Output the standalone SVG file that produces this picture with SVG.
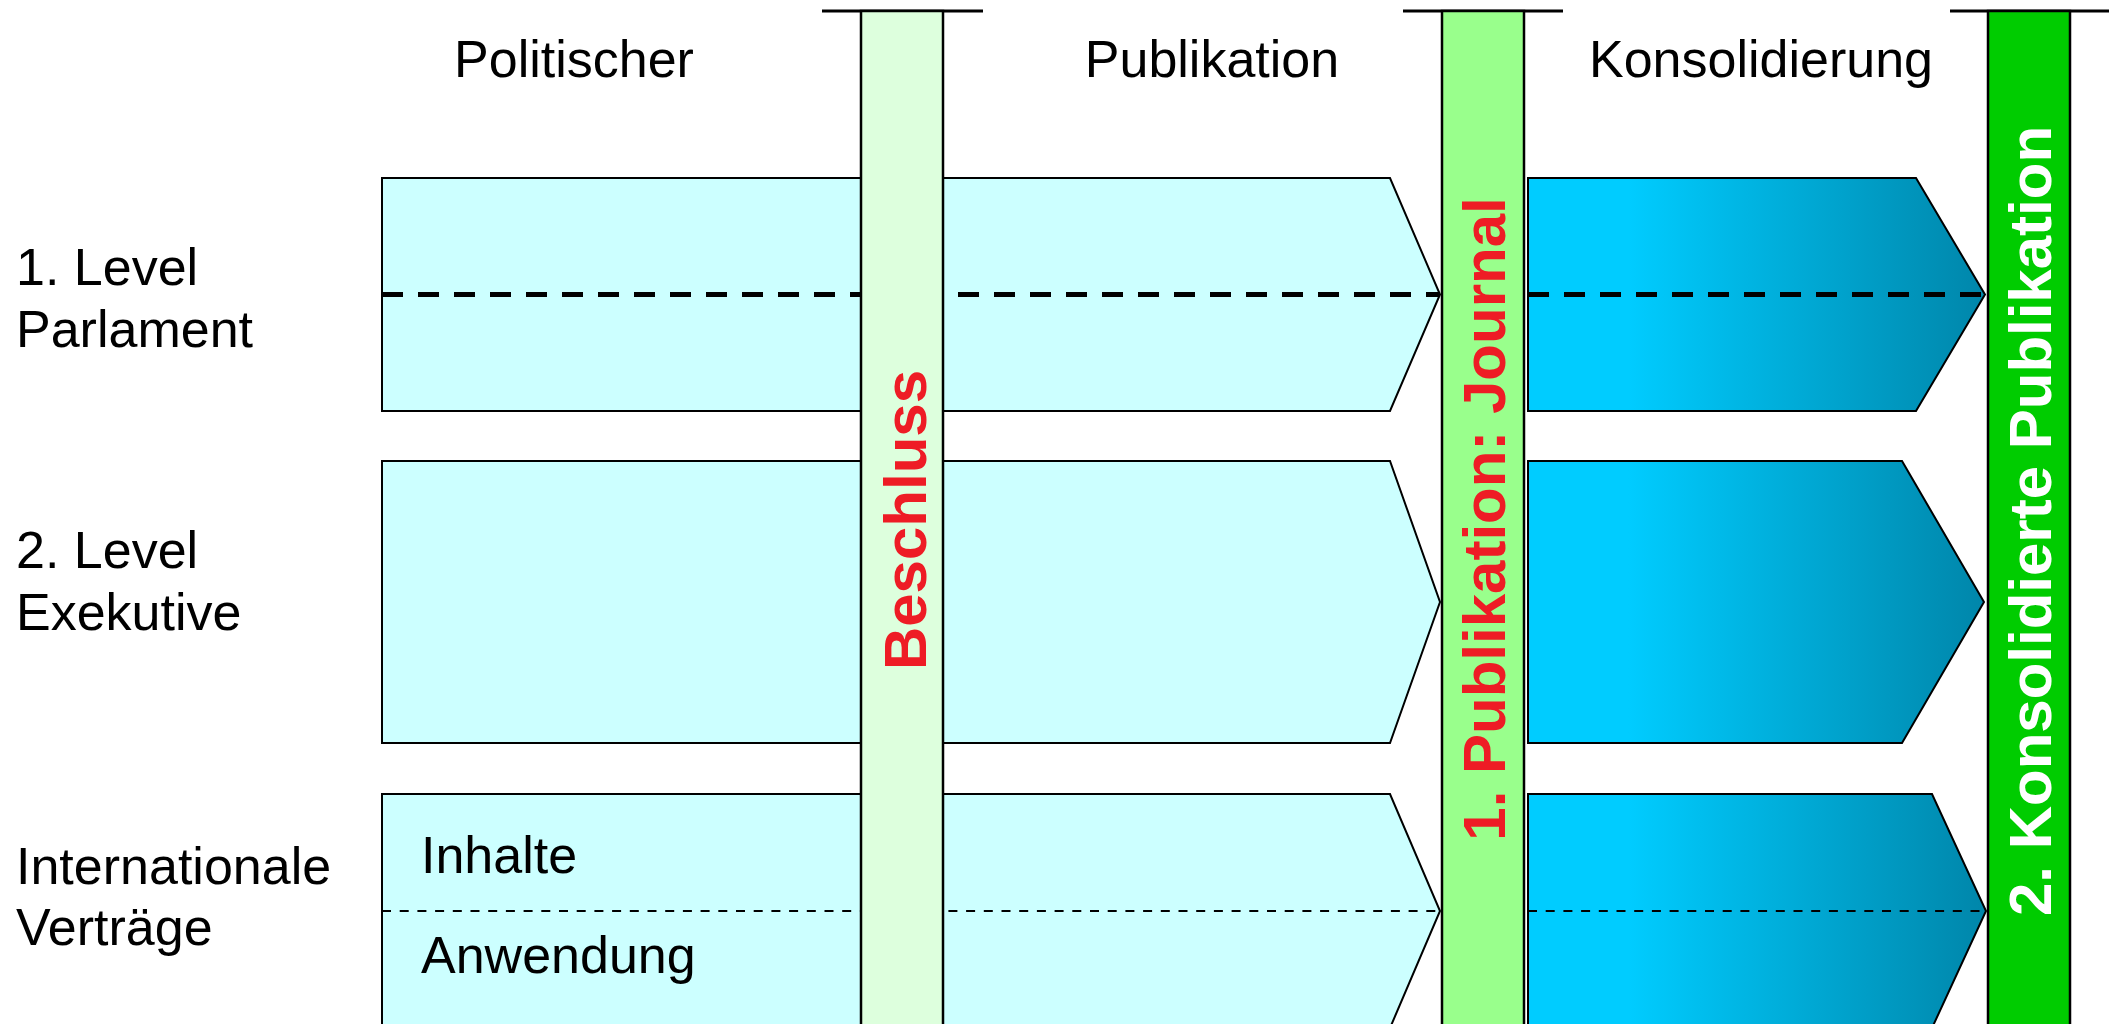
<svg xmlns="http://www.w3.org/2000/svg" width="2116" height="1024" viewBox="0 0 2116 1024">
<defs>
<linearGradient id="blue" x1="0" y1="0" x2="1" y2="0">
<stop offset="0" stop-color="#00CCFF"/>
<stop offset="0.22" stop-color="#00CCFF"/>
<stop offset="1" stop-color="#0086AA"/>
</linearGradient>
<style>
.cyan{fill:#CCFFFF;stroke:#000;stroke-width:2}
.blue{fill:url(#blue);stroke:#000;stroke-width:2}
.bar{stroke:#000;stroke-width:2.5}
.cap{stroke:#000;stroke-width:3}
.dash1{stroke:#000;stroke-width:5;stroke-dasharray:21 15;fill:none}
.dash3{stroke:#000;stroke-width:2;stroke-dasharray:9 8.7;fill:none}
.lbl{font-family:"Liberation Sans",Arial,sans-serif;font-size:52px;fill:#000}
.vt{font-family:"Liberation Sans",Arial,sans-serif;font-size:60px;font-weight:bold;text-anchor:middle}
</style>
</defs>
<rect width="2116" height="1024" fill="#fff"/>

<g id="headers">
<text class="lbl" x="574" y="77" text-anchor="middle">Politischer</text>
<text class="lbl" x="1212" y="77" text-anchor="middle">Publikation</text>
<text class="lbl" x="1761" y="77" text-anchor="middle">Konsolidierung</text>
</g>

<g id="row-labels">
<text class="lbl" x="16" y="285">1. Level</text>
<text class="lbl" x="16" y="347">Parlament</text>
<text class="lbl" x="16" y="568">2. Level</text>
<text class="lbl" x="16" y="630">Exekutive</text>
<text class="lbl" x="16" y="884">Internationale</text>
<text class="lbl" x="16" y="945">Verträge</text>
</g>

<g id="row1">
<polygon class="cyan" points="382,178 1390,178 1440,294.5 1390,411 382,411"/>
<polygon class="blue" points="1528,178 1916,178 1985,294.5 1916,411 1528,411"/>
</g>
<g id="row2">
<polygon class="cyan" points="382,461 1390,461 1440,602 1390,743 382,743"/>
<polygon class="blue" points="1528,461 1902,461 1984,602 1902,743 1528,743"/>
</g>
<g id="row3">
<polygon class="cyan" points="382,794 1390,794 1440,911 1390,1028 382,1028"/>
<polygon class="blue" points="1528,794 1932,794 1986,911 1932,1028 1528,1028"/>
<text class="lbl" x="421" y="873">Inhalte</text>
<text class="lbl" x="421" y="973">Anwendung</text>
</g>

<g id="connectors">
<line class="dash1" x1="382" y1="294.5" x2="1440" y2="294.5"/>
<line class="dash1" x1="1528" y1="294.5" x2="1985" y2="294.5"/>
<line class="dash3" x1="382" y1="911" x2="1440" y2="911"/>
<line class="dash3" x1="1528" y1="911" x2="1986" y2="911"/>
</g>

<g id="bar-beschluss">
<line class="cap" x1="822" y1="11" x2="983" y2="11"/>
<rect class="bar" x="861" y="11" width="82" height="1030" fill="#DDFFDD"/>
<text class="vt" fill="#EE1C25" transform="translate(926,520) rotate(-90)">Beschluss</text>
</g>
<g id="bar-journal">
<line class="cap" x1="1403" y1="11" x2="1563" y2="11"/>
<rect class="bar" x="1442" y="11" width="82" height="1030" fill="#99FF8C"/>
<text class="vt" fill="#EE1C25" transform="translate(1505,519) rotate(-90)">1. Publikation: Journal</text>
</g>
<g id="bar-konsolidiert">
<line class="cap" x1="1950" y1="11" x2="2109" y2="11"/>
<rect class="bar" x="1988" y="11" width="82" height="1030" fill="#00CC00"/>
<text class="vt" fill="#FFFFFF" transform="translate(2051,521) rotate(-90)">2. Konsolidierte Publikation</text>
</g>
</svg>
